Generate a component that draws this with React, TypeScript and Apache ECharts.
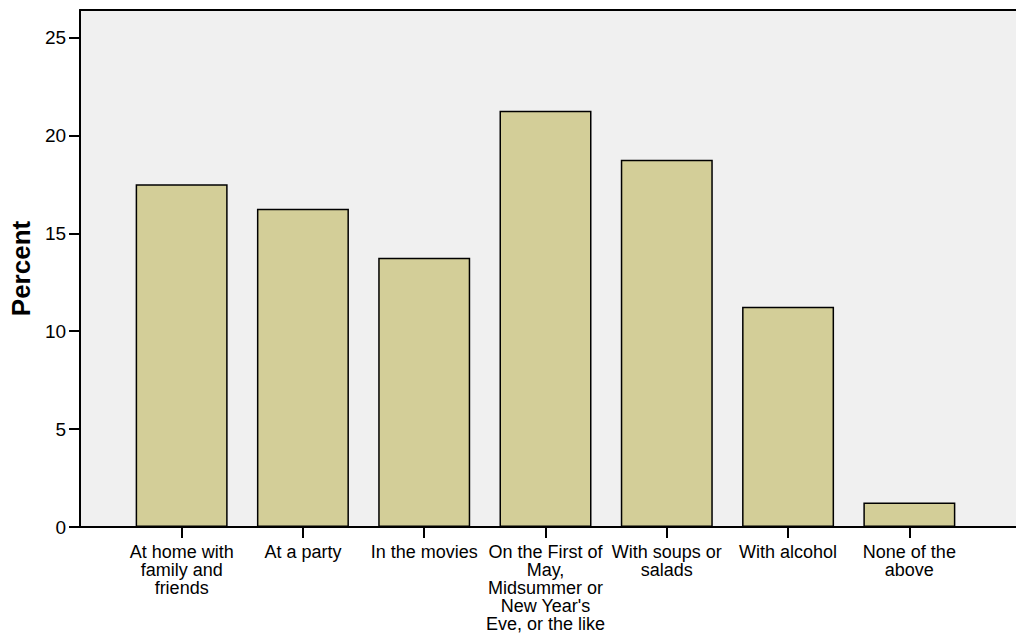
import React, { useEffect, useRef } from "react";
import * as echarts from "echarts";

const categories = [
  "At home with\nfamily and\nfriends",
  "At a party",
  "In the movies",
  "On the First of\nMay,\nMidsummer or\nNew Year's\nEve, or the like",
  "With soups or\nsalads",
  "With alcohol",
  "None of the\nabove",
];
const percentValues = [17.5, 16.25, 13.75, 21.25, 18.75, 11.25, 1.25];
const yMax = 26.4;

export default function App() {
  const ref = useRef<HTMLDivElement>(null);
  useEffect(() => {
    document.body.style.margin = "0";
    const chart = echarts.init(ref.current!, null, { renderer: "svg" });
    const font = "Liberation Sans, Arial, sans-serif";
    chart.setOption({
      animation: false,
      backgroundColor: "#ffffff",
      textStyle: { fontFamily: font },
      grid: [
        { left: 74, right: 0, top: 10, bottom: 110, show: true, backgroundColor: "#f0f0f0", borderWidth: 0 },
        { left: 121, right: 46, top: 10, bottom: 110 },
      ],
      xAxis: [
        {
          gridIndex: 0, type: "value", position: "bottom", min: 0, max: 1,
          axisLine: { show: true, lineStyle: { color: "#000", width: 2 } },
          axisTick: { show: false }, axisLabel: { show: false }, splitLine: { show: false },
        },
        {
          gridIndex: 0, type: "value", position: "top", min: 0, max: 1,
          axisLine: { show: true, lineStyle: { color: "#000", width: 2 } },
          axisTick: { show: false }, axisLabel: { show: false }, splitLine: { show: false },
        },
        {
          gridIndex: 1, type: "category", data: categories, position: "bottom",
          axisLine: { show: false },
          axisTick: { show: true, alignWithLabel: true, length: 11, lineStyle: { color: "#000", width: 2 } },
          axisLabel: { interval: 0, color: "#000", fontSize: 18, lineHeight: 18, margin: 16, fontFamily: font, align: "center" },
          splitLine: { show: false },
        },
      ],
      yAxis: [
        {
          gridIndex: 0, type: "value", min: 0, max: yMax, interval: 5,
          axisLine: { show: true, lineStyle: { color: "#000", width: 2 } },
          axisTick: { show: true, length: 11, lineStyle: { color: "#000", width: 2 } },
          axisLabel: { color: "#000", fontSize: 19, margin: 14, fontFamily: font, showMaxLabel: false },
          splitLine: { show: false },
          name: "Percent", nameLocation: "middle", nameGap: 44, nameRotate: 90,
          nameTextStyle: { color: "#000", fontSize: 26, fontWeight: "bold", fontFamily: font },
        },
        {
          gridIndex: 1, type: "value", min: 0, max: yMax, show: false,
        },
      ],
      series: [
        {
          type: "bar", xAxisIndex: 2, yAxisIndex: 1, data: percentValues,
          barWidth: 92,
          itemStyle: { color: "#d3ce98", borderColor: "#000", borderWidth: 1.5 },
        },
      ],
    });
    return () => chart.dispose();
  }, []);
  return <div ref={ref} style={{ width: 1016, height: 637 }} />;
}
